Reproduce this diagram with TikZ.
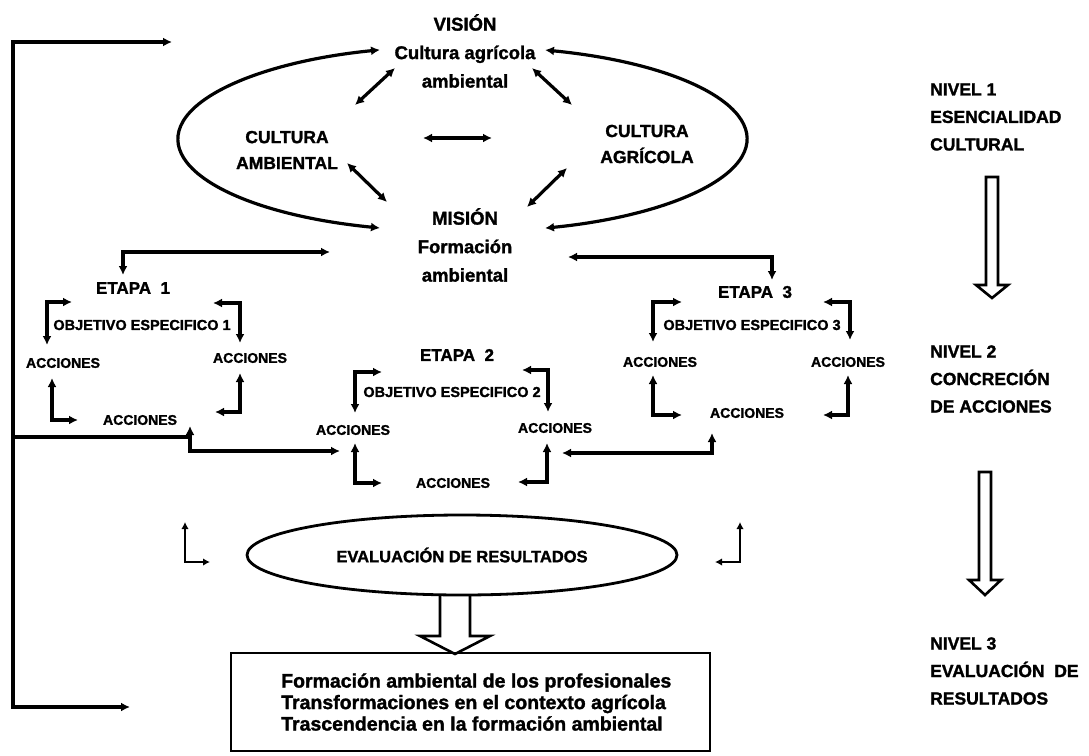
\documentclass[tikz,border=0pt]{standalone}
\usepackage{fontspec}
\setmainfont{Liberation Sans}[BoldFeatures={FakeBold=1.5}]
\usetikzlibrary{arrows.meta,shapes.geometric}
\begin{document}
\begin{tikzpicture}[x=1pt,y=-1pt,
  >={Latex[length=9pt,width=9pt]},
  conn/.style={line width=3.2pt},
  thinconn/.style={line width=2.5pt, >={Latex[length=7pt,width=7.5pt]}},
  big/.style={font=\fontsize{18.5}{28.5}\selectfont\bfseries, align=center, inner sep=0pt},
  mid/.style={font=\fontsize{17.5}{26}\selectfont\bfseries, align=center, inner sep=0pt},
  etapa/.style={font=\fontsize{17}{20}\selectfont\bfseries, inner sep=0pt},
  obj/.style={font=\fontsize{14.5}{17}\selectfont\bfseries, inner sep=0pt},
  acc/.style={font=\fontsize{14}{17}\selectfont\bfseries, inner sep=0pt},
  nivel/.style={font=\fontsize{17.5}{27.5}\selectfont\bfseries, align=left, inner sep=0pt, anchor=west},
  hollow/.style={line width=2.6pt, fill=white, line join=miter},
]
\useasboundingbox (0,0) rectangle (1089,755);

% ---- top: vision / mision ----
\node[big] (vision) at (465,51) {VISIÓN\\Cultura agrícola\\ambiental};
\node[big] (mision) at (465,245) {MISIÓN\\Formación\\ambiental};
\node[mid] (camb) at (287,150) {CULTURA\\AMBIENTAL};
\node[mid] (cagr) at (647,144) {CULTURA\\AGRÍCOLA};

\draw[conn,<->] (380,228) arc[start angle=106.7,end angle=253.3,x radius=283.5,y radius=93];
\draw[conn,<->] (545,50) arc[start angle=-73.3,end angle=73.3,x radius=283.5,y radius=93];

\draw[conn,<->] (395,68) -- (355,105);
\draw[conn,<->] (532,68) -- (572,105);
\draw[conn,<->] (423,138) -- (492,138);
\draw[conn,<->] (347,163) -- (387,202);
\draw[conn,<->] (567,168) -- (527,207);

% ---- left feedback line ----
\coordinate (ltop) at (13,42);
\coordinate (lbot) at (13,707);
\coordinate (lmid) at (13,437);
\draw[conn,<->] (172,42) -- (ltop) -- (lbot) -- (130,707);
\draw[conn] (lmid) -- (190,437);
\draw[conn,<->] (190,426) |- (340,451);

% ---- etapa connectors ----
\draw[conn,<->] (330,252) -| (123,275);
\draw[conn,<->] (568,257) -| (772,280);

% ---- etapa 1 ----
\node[etapa] (e1) at (133,288) {ETAPA~~1};
\node[obj] (o1) at (142,325) {OBJETIVO ESPECIFICO 1};
\node[acc] (a1l) at (63,363) {ACCIONES};
\node[acc] (a1r) at (250,358) {ACCIONES};
\node[acc] (a1b) at (140,420) {ACCIONES};
\draw[conn,<->] (72,302) -| (47,345);
\draw[conn,<->] (213,303) -| (240,343);
\draw[conn,<->] (52,378) |- (78,420);
\draw[conn,<->] (240,373) |- (215,412);

% ---- etapa 2 ----
\node[etapa] (e2) at (457,355) {ETAPA~~2};
\node[obj] (o2) at (452,392) {OBJETIVO ESPECIFICO 2};
\node[acc] (a2l) at (353,430) {ACCIONES};
\node[acc] (a2r) at (555,428) {ACCIONES};
\node[acc] (a2b) at (453,483) {ACCIONES};
\draw[conn,<->] (382,372) -| (355,413);
\draw[conn,<->] (522,370) -| (548,412);
\draw[conn,<->] (355,443) |- (382,483);
\draw[conn,<->] (547,443) |- (518,482);

% ---- etapa 3 ----
\node[etapa] (e3) at (755,292) {ETAPA~~3};
\node[obj] (o3) at (752,325) {OBJETIVO ESPECIFICO 3};
\node[acc] (a3l) at (660,362) {ACCIONES};
\node[acc] (a3r) at (848,362) {ACCIONES};
\node[acc] (a3b) at (747,413) {ACCIONES};
\draw[conn,<->] (682,302) -| (653,342);
\draw[conn,<->] (823,302) -| (850,340);
\draw[conn,<->] (653,375) |- (682,415);
\draw[conn,<->] (848,375) |- (823,415);
\draw[conn,<->] (712,433) |- (562,453);

% ---- evaluacion ----
\node[draw, ellipse, line width=2.8pt, minimum width=430pt, minimum height=80pt, inner sep=0pt,
      font=\fontsize{16.5}{19}\selectfont\bfseries] (eval) at (462,555) {EVALUACIÓN DE RESULTADOS};
\draw[thinconn,<->] (185,522) |- (210,562);
\draw[thinconn,<->] (740,522) |- (715,562);

\draw[hollow, fill=none] (440,595) -- (440,636) -- (420,636) -- (455,654) -- (490,636) -- (470,636) -- (470,595);

\node[draw, line width=2.8pt, minimum width=479pt, minimum height=98pt, inner sep=0pt] (box) at (470.5,702) {};
\node[font=\fontsize{19.5}{21.5}\selectfont\bfseries, align=left, inner sep=0pt, anchor=west] (res) at (281,702)
  {Formación ambiental de los profesionales\\Transformaciones en el contexto agrícola\\Trascendencia en la formación ambiental};

% ---- niveles ----
\node[nivel] (n1) at (930,117) {NIVEL 1\\ESENCIALIDAD\\CULTURAL};
\node[nivel] (n2) at (930,379) {NIVEL 2\\CONCRECIÓN\\DE ACCIONES};
\node[nivel] (n3) at (930,671) {NIVEL 3\\EVALUACIÓN~~DE\\RESULTADOS};

\draw[hollow] (986,177) -- (998,177) -- (998,285) -- (1008,285) -- (992,298) -- (976,285) -- (986,285) -- cycle;
\draw[hollow] (979,472) -- (991,472) -- (991,580) -- (1001,580) -- (985,595) -- (969,580) -- (979,580) -- cycle;
\end{tikzpicture}
\end{document}
